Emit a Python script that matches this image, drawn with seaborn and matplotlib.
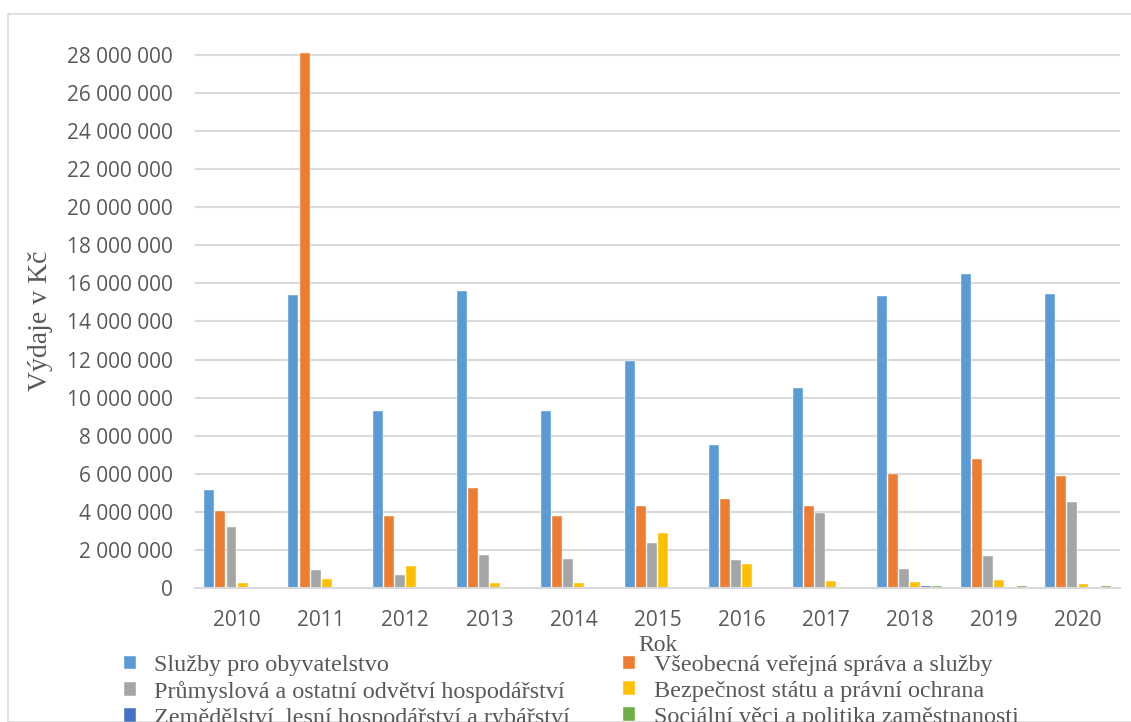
import numpy as np
import matplotlib
matplotlib.use("Agg")
import matplotlib.pyplot as plt
from matplotlib.patches import Rectangle
from matplotlib.ticker import FuncFormatter, MultipleLocator
import pandas as pd
import seaborn as sns

years = ["2010", "2011", "2012", "2013", "2014", "2015", "2016", "2017", "2018", "2019", "2020"]
series = [
    "Služby pro obyvatelstvo",
    "Všeobecná veřejná správa a služby",
    "Průmyslová a ostatní odvětví hospodářství",
    "Bezpečnost státu a právní ochrana",
    "Zemědělství, lesní hospodářství a rybářství",
    "Sociální věci a politika zaměstnanosti",
]
sluzby = [5150000, 15400000, 9280000, 15600000, 9280000, 11900000, 7500000, 10500000, 15350000, 16500000, 15450000]
sprava = [4050000, 28100000, 3780000, 5250000, 3780000, 4300000, 4650000, 4300000, 6000000, 6780000, 5900000]
prumysl = [3200000, 950000, 680000, 1730000, 1520000, 2360000, 1470000, 3950000, 1000000, 1680000, 4500000]
bezpecnost = [260000, 450000, 1150000, 270000, 270000, 2900000, 1250000, 370000, 300000, 420000, 220000]
zemedelstvi = [20000, 10000, 20000, 20000, 20000, 20000, 20000, 20000, 100000, 30000, 60000]
socialni = [20000, 20000, 10000, 20000, 20000, 70000, 30000, 50000, 80000, 100000, 90000]

colors = ["#5B9BD5", "#ED7D31", "#A5A5A5", "#FFC000", "#4472C4", "#70AD47"]

values = [sluzby, sprava, prumysl, bezpecnost, zemedelstvi, socialni]
rows = []
for name, vals in zip(series, values):
    for y, v in zip(years, vals):
        rows.append({"Rok": y, "Oblast": name, "Výdaje": v})
df = pd.DataFrame(rows)

sns.set_style("white")
plt.rcParams["font.family"] = ["Liberation Serif", "DejaVu Serif"]

fig = plt.figure(figsize=(11.31, 7.22), dpi=100)
ax = fig.add_axes([195 / 1131, 1 - 588 / 722, 925 / 1131, 535 / 722])

sns.barplot(data=df, x="Rok", y="Výdaje", hue="Oblast", hue_order=series,
            palette=colors, saturation=1, width=0.79, gap=0.1, ax=ax, legend=True,
            edgecolor="white", linewidth=0.3)

ax.set_ylim(0, 28100000)
ax.set_xlim(-0.5, 10.5)
ax.yaxis.set_major_locator(MultipleLocator(2000000))
ax.yaxis.set_major_formatter(FuncFormatter(lambda v, p: f"{int(v):,}".replace(",", " ")))
ax.grid(axis="y", color="#D9D9D9", linewidth=1.5)
ax.set_axisbelow(True)
for s in ["top", "right", "left"]:
    ax.spines[s].set_visible(False)
ax.spines["bottom"].set_color("#D9D9D9")
ax.spines["bottom"].set_linewidth(1.5)
ax.tick_params(length=0)
ax.tick_params(axis="y", pad=16)
ax.tick_params(axis="x", pad=16)
for lab in ax.get_xticklabels() + ax.get_yticklabels():
    lab.set_fontfamily("Open Sans")
    lab.set_fontsize(15)
    lab.set_color("#595959")

ax.set_ylabel("Výdaje v Kč", fontsize=20, color="#595959", labelpad=10)
ax.set_xlabel("Rok", fontsize=17, color="#595959", labelpad=3)

# legend in row order like the original (two columns)
handles, labels = ax.get_legend_handles_labels()
ax.get_legend().remove()
order = [0, 2, 4, 1, 3, 5]
fig.legend([handles[i] for i in order], [labels[i] for i in order],
           loc="upper left", bbox_to_anchor=(112 / 1131, 1 - 643 / 722),
           ncol=2, frameon=False, fontsize=17.4, labelcolor="#595959",
           handlelength=0.5, handleheight=0.5, handletextpad=0.75,
           columnspacing=2.2, labelspacing=0.2, borderpad=0)

fig.patches.append(Rectangle((8 / 1131, 0), 1.2, 1 - 14 / 722, transform=fig.transFigure,
                             fill=False, edgecolor="#D9D9D9", linewidth=1.2))

fig.savefig("out.png", dpi=100)
